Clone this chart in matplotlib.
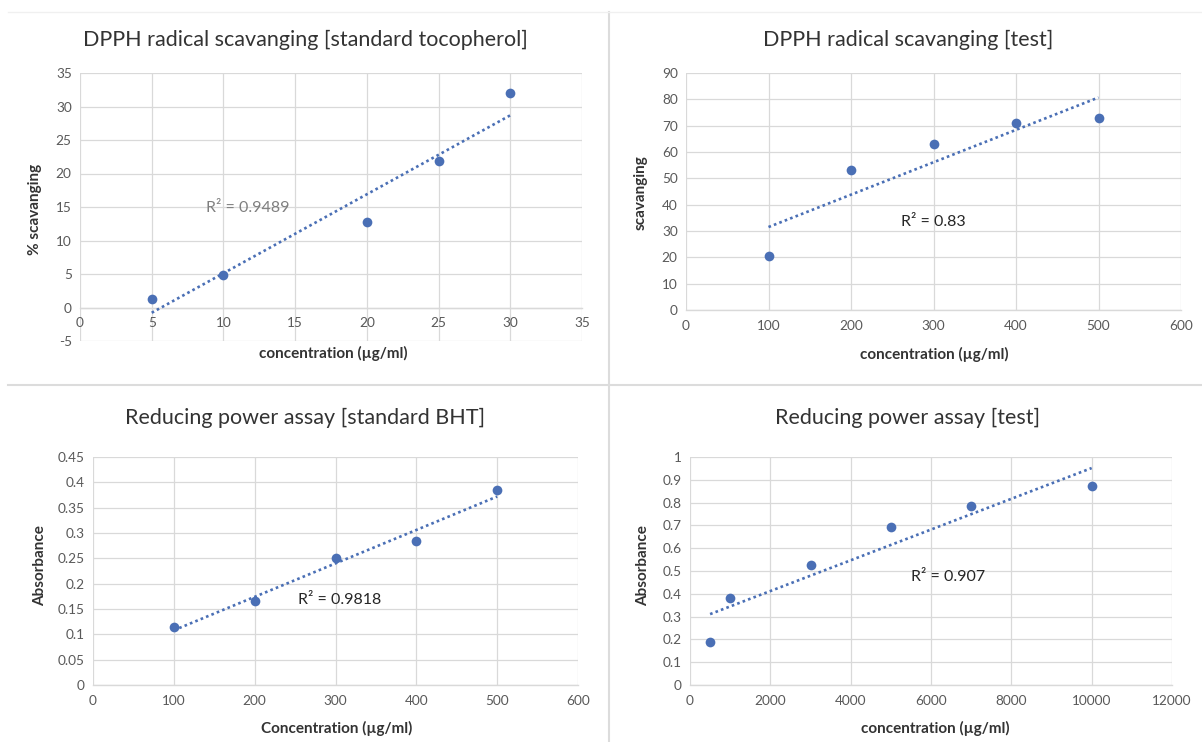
import matplotlib
matplotlib.use("Agg")
import matplotlib.pyplot as plt
from matplotlib.lines import Line2D
from matplotlib.ticker import FuncFormatter, MultipleLocator
import numpy as np

plt.rcParams['font.family'] = ['Lato', 'DejaVu Sans']

# ---- data ----
titles = ["DPPH radical scavanging [standard tocopherol]",
          "DPPH radical scavanging [test]",
          "Reducing power assay [standard BHT]",
          "Reducing power assay [test]"]
xlabels = ["concentration (µg/ml)", "concentration (µg/ml)",
           "Concentration (µg/ml)", "concentration (µg/ml)"]
ylabels = ["% scavanging", "scavanging", "Absorbance", "Absorbance"]

toco_x = [5, 10, 20, 25, 30]
toco_y = [1.3, 4.8, 12.8, 21.8, 32.0]
dpph_test_x = [100, 200, 300, 400, 500]
dpph_test_y = [20.5, 53.0, 63.0, 71.0, 73.0]
bht_x = [100, 200, 300, 400, 500]
bht_y = [0.115, 0.165, 0.25, 0.285, 0.385]
rp_test_x = [500, 1000, 3000, 5000, 7000, 10000]
rp_test_y = [0.19, 0.38, 0.525, 0.695, 0.785, 0.875]
r2_labels = ["R² = 0.9489", "R² = 0.83", "R² = 0.9818", "R² = 0.907"]

W, H = 1202, 742
fig = plt.figure(figsize=(W / 100, H / 100), dpi=100)
fig.patch.set_facecolor('white')

def rect(l, t, r, b):
    return [l / W, 1 - b / H, (r - l) / W, (b - t) / H]

BLUE = '#4a6fb5'
GRID = '#d9d9d9'
TICKC = '#595959'
LABC = '#333333'

fmt = FuncFormatter(lambda v, p: f'{v:g}')

panels = [
    dict(x=toco_x, y=toco_y, box=(80, 73, 582, 341), xlim=(0, 35), xstep=5,
         ylim=(-5, 35), ystep=5, r2pos=(11.7, 14.8), r2col='#7f7f7f',
         title=(305, 40), xlab=(333, 353), ylab=(35, 209), zero_axis=True),
    dict(x=dpph_test_x, y=dpph_test_y, box=(686, 73, 1181, 310), xlim=(0, 600), xstep=100,
         ylim=(0, 90), ystep=10, r2pos=(300, 33.5), r2col='#262626',
         title=(908, 40), xlab=(934, 354), ylab=(641, 193), zero_axis=False),
    dict(x=bht_x, y=bht_y, box=(93, 457, 578, 685), xlim=(0, 600), xstep=100,
         ylim=(0, 0.45), ystep=0.05, r2pos=(305, 0.168), r2col='#262626',
         title=(305, 418), xlab=(337, 728), ylab=(40, 566), zero_axis=False),
    dict(x=rp_test_x, y=rp_test_y, box=(690, 457, 1172, 685), xlim=(0, 12000), xstep=2000,
         ylim=(0, 1.0), ystep=0.1, r2pos=(6420, 0.474), r2col='#262626',
         title=(908, 418), xlab=(935, 728), ylab=(643, 566), zero_axis=False),
]

for i, p in enumerate(panels):
    ax = fig.add_axes(rect(*p['box']))
    ax.set_facecolor('white')
    x = np.array(p['x'], dtype=float)
    y = np.array(p['y'], dtype=float)
    # trendline (linear fit)
    k, b = np.polyfit(x, y, 1)
    xt = np.array([x.min(), x.max()])
    ax.plot(xt, k * xt + b, linestyle=(0, (1, 1.2)), color=BLUE, lw=1.9, zorder=3)
    ax.plot(x, y, 'o', color=BLUE, markersize=7, markeredgewidth=0, zorder=4)

    ax.set_xlim(*p['xlim'])
    ax.set_ylim(*p['ylim'])
    ax.xaxis.set_major_locator(MultipleLocator(p['xstep']))
    ax.yaxis.set_major_locator(MultipleLocator(p['ystep']))
    ax.xaxis.set_major_formatter(fmt)
    ax.yaxis.set_major_formatter(fmt)
    ax.grid(True, color=GRID, lw=0.9, zorder=0)
    ax.set_axisbelow(True)
    for s in ['top', 'right', 'left']:
        ax.spines[s].set_visible(False)
    ax.spines['bottom'].set_color(GRID)
    ax.spines['bottom'].set_linewidth(1.0)
    if p['zero_axis']:
        ax.spines['bottom'].set_position(('data', 0))
    ax.tick_params(axis='both', length=0, labelsize=9.8, labelcolor=TICKC)
    ax.tick_params(axis='x', pad=7)
    ax.tick_params(axis='y', pad=6)

    ax.text(p['r2pos'][0], p['r2pos'][1], r2_labels[i], ha='center', va='center',
            fontsize=11.5, color=p['r2col'], zorder=5)

    fig.text(p['title'][0] / W, 1 - p['title'][1] / H, titles[i], ha='center', va='center',
             fontsize=15.5, color=LABC)
    fig.text(p['xlab'][0] / W, 1 - p['xlab'][1] / H, xlabels[i], ha='center', va='center',
             fontsize=11, fontweight='bold', color=LABC)
    fig.text(p['ylab'][0] / W, 1 - p['ylab'][1] / H, ylabels[i], ha='center', va='center',
             rotation=90, fontsize=11, fontweight='bold', color=LABC)

# panel separators
sep = '#dcdcdc'
fig.add_artist(Line2D([609 / W, 609 / W], [0, 1 - 12 / H], color=sep, lw=1.5))
fig.add_artist(Line2D([8 / W, 1], [1 - 385 / H, 1 - 385 / H], color=sep, lw=1.5))
fig.add_artist(Line2D([8 / W, 1], [1 - 12 / H, 1 - 12 / H], color='#f0f0f0', lw=1.0))

fig.savefig('out.png', dpi=100, facecolor='white')
